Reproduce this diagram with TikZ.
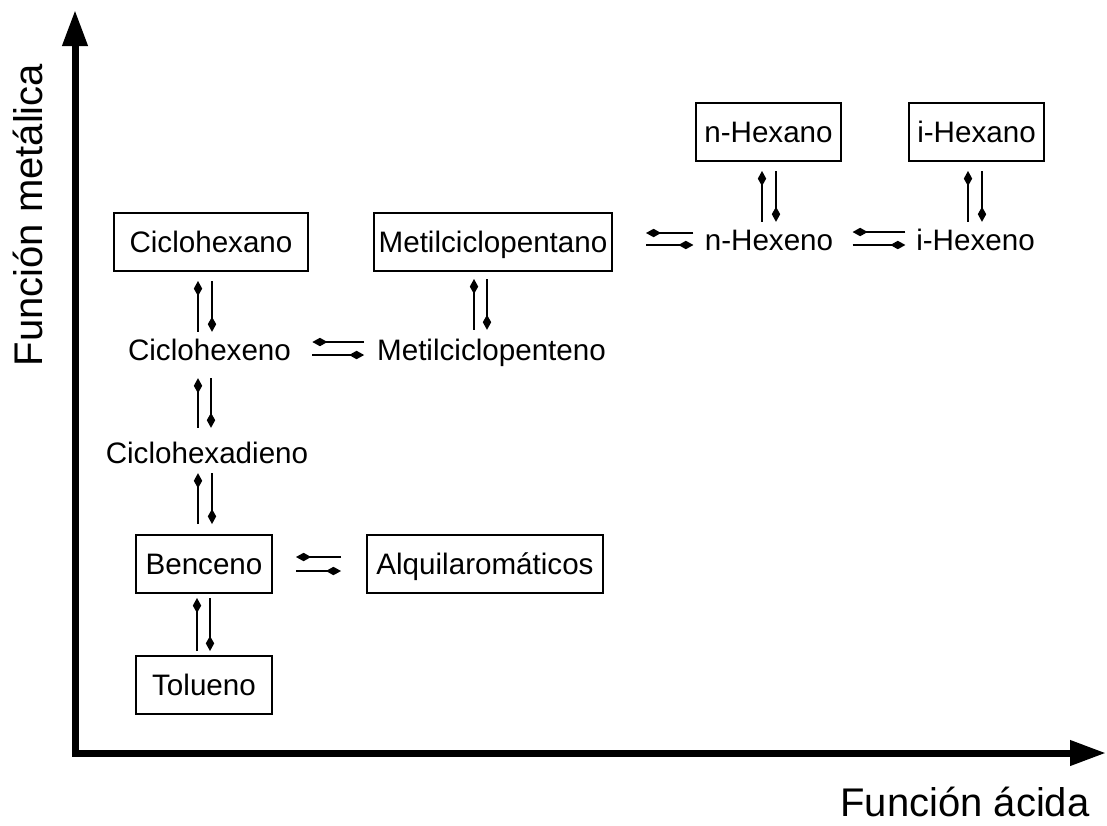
\documentclass[tikz,border=0pt]{standalone}
\usepackage{fontspec}
\setmainfont{Liberation Sans}
\usetikzlibrary{arrows.meta,positioning}

\tikzset{
  species/.style={inner sep=0pt, text height=10.8pt, text depth=0pt, font=\fontsize{14.8}{17}\selectfont},
  compound/.style={species, draw=black, line width=1pt, minimum height=29pt},
  fwd/.style={line width=1pt, -{Kite[length=7.5pt,width=4.2pt,inset=3.7pt]}},
  axis/.style={line width=3.5pt, {Triangle[length=18pt,width=12pt]}-{Triangle[length=18pt,width=12pt]}},
  axislabel/.style={inner sep=0pt, text height=14.5pt, text depth=0pt, font=\fontsize{20}{24}\selectfont}
}

\begin{document}
\begin{tikzpicture}[x=0.5pt, y=-0.5pt]
  \useasboundingbox (0,0) rectangle (1107,825);
  % axes
  \coordinate (ytip) at (75,10);
  \coordinate (origin) at (75,753);
  \coordinate (xtip) at (1106,753);
  \draw[axis] (ytip) -- (origin) -- (xtip);
  \node[axislabel, rotate=90] (ylab) at (28,215) {Función metálica};
  \node[axislabel] (xlab) at (965,802) {Función ácida};

  % species
  \node[compound, minimum width=97pt] (ciclohexano) at (211,242) {Ciclohexano};
  \node[compound, minimum width=119pt] (metilciclopentano) at (493,241.5) {Metilciclopentano};
  \node[compound, minimum width=72.5pt] (nhexano) at (768.5,132) {n-Hexano};
  \node[compound, minimum width=67.5pt] (ihexano) at (976.5,132) {i-Hexano};
  \node[species] (nhexeno) at (769,240) {n-Hexeno};
  \node[species] (ihexeno) at (975.5,240) {i-Hexeno};
  \node[species] (ciclohexeno) at (209.5,350) {Ciclohexeno};
  \node[species] (metilciclopenteno) at (491.5,350) {Metilciclopenteno};
  \node[species] (ciclohexadieno) at (207,453) {Ciclohexadieno};
  \node[compound, minimum width=68pt] (benceno) at (204,564) {Benceno};
  \node[compound, minimum width=118pt] (alquil) at (485,564) {Alquilaromáticos};
  \node[compound, minimum width=68pt, below=30.5pt of benceno] (tolueno) {Tolueno};

  % vertical equilibria
  \draw[fwd, shorten <=3.5pt, shorten >=4.5pt] ([xshift=-6.5pt]ciclohexano.south |- ciclohexeno.north) -- ([xshift=-6.5pt]ciclohexano.south);
  \draw[fwd, shorten <=4.5pt, shorten >=3.5pt] ([xshift=0.5pt]ciclohexano.south) -- ([xshift=0.5pt]ciclohexano.south |- ciclohexeno.north);
  \draw[fwd, shorten <=4.5pt, shorten >=3.75pt] ([xshift=-9.5pt]metilciclopentano.south |- metilciclopenteno.north) -- ([xshift=-9.5pt]metilciclopentano.south);
  \draw[fwd, shorten <=3.75pt, shorten >=4.5pt] ([xshift=-3pt]metilciclopentano.south) -- ([xshift=-3pt]metilciclopentano.south |- metilciclopenteno.north);
  \draw[fwd, shorten <=3.5pt, shorten >=4.5pt] ([xshift=-3.25pt]nhexano.south |- nhexeno.north) -- ([xshift=-3.25pt]nhexano.south);
  \draw[fwd, shorten <=4.5pt, shorten >=3.5pt] ([xshift=3.75pt]nhexano.south) -- ([xshift=3.75pt]nhexano.south |- nhexeno.north);
  \draw[fwd, shorten <=3.5pt, shorten >=4.5pt] ([xshift=-4.25pt]ihexano.south |- ihexeno.north) -- ([xshift=-4.25pt]ihexano.south);
  \draw[fwd, shorten <=4.5pt, shorten >=3.5pt] ([xshift=2.75pt]ihexano.south) -- ([xshift=2.75pt]ihexano.south |- ihexeno.north);
  \draw[fwd, shorten <=7pt, shorten >=8.5pt] ([xshift=-5.75pt]ciclohexeno.south |- ciclohexadieno.north) -- ([xshift=-5.75pt]ciclohexeno.south);
  \draw[fwd, shorten <=8.5pt, shorten >=7pt] ([xshift=0.75pt]ciclohexeno.south) -- ([xshift=0.75pt]ciclohexeno.south |- ciclohexadieno.north);
  \draw[fwd, shorten <=5pt, shorten >=4.5pt] ([xshift=-4.5pt]ciclohexadieno.south |- benceno.north) -- ([xshift=-4.5pt]ciclohexadieno.south);
  \draw[fwd, shorten <=4.5pt, shorten >=5pt] ([xshift=2.5pt]ciclohexadieno.south) -- ([xshift=2.5pt]ciclohexadieno.south |- benceno.north);
  \draw[fwd, shorten <=2pt, shorten >=2pt] ([xshift=-3.5pt]benceno.south |- tolueno.north) -- ([xshift=-3.5pt]benceno.south);
  \draw[fwd, shorten <=2pt, shorten >=2pt] ([xshift=3pt]benceno.south) -- ([xshift=3pt]benceno.south |- tolueno.north);

  % horizontal equilibria
  \draw[fwd, shorten <=6.3pt, shorten >=10.5pt] ([yshift=4pt]ciclohexeno.east -| metilciclopenteno.west) -- ([yshift=4pt]ciclohexeno.east);
  \draw[fwd, shorten <=10.5pt, shorten >=6.3pt] ([yshift=-2.5pt]ciclohexeno.east) -- ([yshift=-2.5pt]ciclohexeno.east -| metilciclopenteno.west);
  \draw[fwd, shorten <=5.5pt, shorten >=16.5pt] ([yshift=3.5pt]nhexeno.west) -- ([yshift=3.5pt]nhexeno.west -| metilciclopentano.east);
  \draw[fwd, shorten <=16.5pt, shorten >=5.5pt] ([yshift=-2.5pt]nhexeno.west -| metilciclopentano.east) -- ([yshift=-2.5pt]nhexeno.west);
  \draw[fwd, shorten <=5.25pt, shorten >=9.5pt] ([yshift=4pt]nhexeno.east -| ihexeno.west) -- ([yshift=4pt]nhexeno.east);
  \draw[fwd, shorten <=9.5pt, shorten >=5.25pt] ([yshift=-2.5pt]nhexeno.east) -- ([yshift=-2.5pt]nhexeno.east -| ihexeno.west);
  \draw[fwd, shorten <=12.5pt, shorten >=11.5pt] ([yshift=3.5pt]benceno.east -| alquil.west) -- ([yshift=3.5pt]benceno.east);
  \draw[fwd, shorten <=11.5pt, shorten >=12.5pt] ([yshift=-3.5pt]benceno.east) -- ([yshift=-3.5pt]benceno.east -| alquil.west);
\end{tikzpicture}
\end{document}
